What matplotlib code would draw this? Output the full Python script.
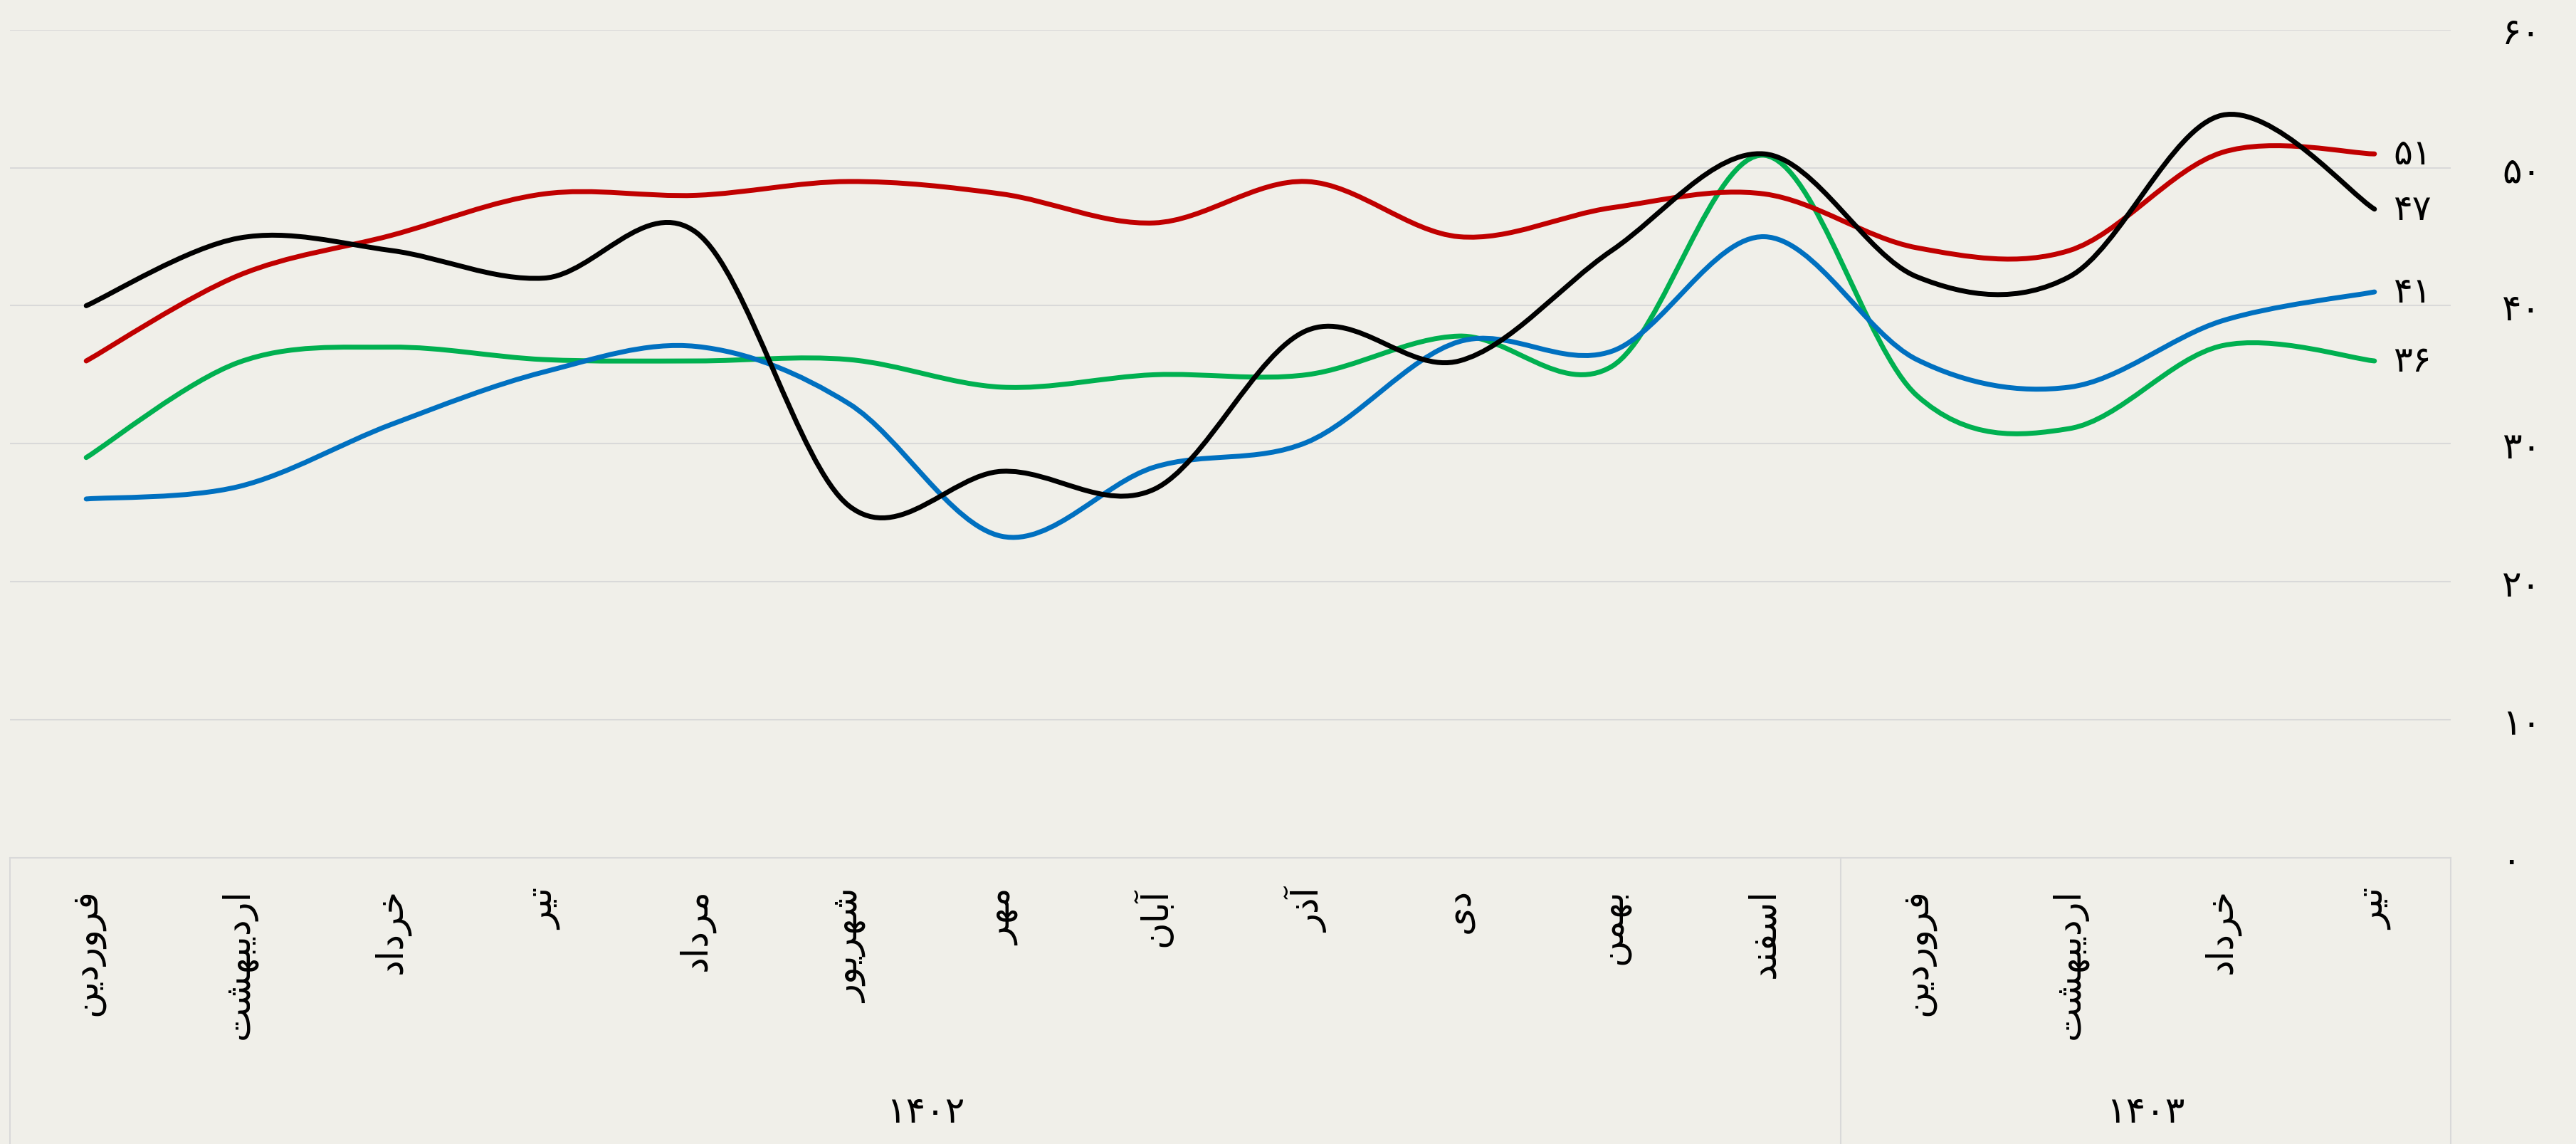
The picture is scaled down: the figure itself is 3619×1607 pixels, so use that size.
import matplotlib
matplotlib.use("Agg")
import matplotlib.pyplot as plt
from matplotlib.path import Path
from matplotlib.patches import PathPatch
import numpy as np

plt.rcParams['font.family'] = ['DejaVu Sans']

# 数据
months = ['فروردین', 'اردیبهشت', 'خرداد', 'تیر', 'مرداد', 'شهریور', 'مهر', 'آبان',
          'آذر', 'دی', 'بهمن', 'اسفند', 'فروردین', 'اردیبهشت', 'خرداد', 'تیر']
years = ['۱۴۰۲', '۱۴۰۳']
year_spans = [(0, 11), (12, 15)]

red = [36.0, 42.2, 45.1, 48.1, 48.0, 49.0, 48.1, 46.0, 49.0, 45.0, 47.1, 48.1, 44.2, 44.0, 51.1, 51.0]
black = [40.0, 44.9, 44.0, 42.0, 45.3, 25.5, 28.0, 26.7, 38.2, 36.0, 44.0, 51.0, 42.1, 42.1, 53.8, 47.0]
blue = [26.0, 26.9, 31.4, 35.2, 37.05, 32.9, 23.3, 28.3, 30.1, 37.4, 36.7, 45.0, 36.1, 34.1, 38.9, 41.0]
green = [29.0, 35.9, 37.0, 36.1, 36.0, 36.1, 34.1, 35.0, 35.0, 37.8, 35.6, 50.9, 33.5, 31.1, 37.1, 36.0]
end_labels = ['۵۱', '۴۷', '۴۱', '۳۶']
end_values = [51, 47, 41, 36]

yticks = [0, 10, 20, 30, 40, 50, 60]

BG = '#F0EFE9'
GRID = '#D9D9D9'

# 波斯字母连写形式 (孤立, 词尾, 词首, 词中)
FORMS = {
    'ا': ('\uFE8D', '\uFE8E'), 'آ': ('\uFE81', '\uFE82'),
    'د': ('\uFEA9', '\uFEAA'), 'ذ': ('\uFEAB', '\uFEAC'),
    'ر': ('\uFEAD', '\uFEAE'), 'و': ('\uFEED', '\uFEEE'),
    'ب': ('\uFE8F', '\uFE90', '\uFE91', '\uFE92'),
    'ت': ('\uFE95', '\uFE96', '\uFE97', '\uFE98'),
    'خ': ('\uFEA5', '\uFEA6', '\uFEA7', '\uFEA8'),
    'س': ('\uFEB1', '\uFEB2', '\uFEB3', '\uFEB4'),
    'ش': ('\uFEB5', '\uFEB6', '\uFEB7', '\uFEB8'),
    'ف': ('\uFED1', '\uFED2', '\uFED3', '\uFED4'),
    'م': ('\uFEE1', '\uFEE2', '\uFEE3', '\uFEE4'),
    'ن': ('\uFEE5', '\uFEE6', '\uFEE7', '\uFEE8'),
    'ه': ('\uFEE9', '\uFEEA', '\uFEEB', '\uFEEC'),
    'ی': ('\uFBFC', '\uFBFD', '\uFBFE', '\uFBFF'),
}


def shape(word):
    out = []
    for i, c in enumerate(word):
        f = FORMS[c]
        prev = word[i - 1] if i > 0 else None
        nxt = word[i + 1] if i + 1 < len(word) else None
        jp = prev is not None and len(FORMS[prev]) == 4
        jn = len(f) == 4 and nxt is not None
        if jp and jn:
            out.append(f[3])
        elif jp:
            out.append(f[1])
        elif jn:
            out.append(f[2])
        else:
            out.append(f[0])
    return ''.join(out)[::-1]


def fa_num(n):
    return str(n).translate(str.maketrans('0123456789', '۰۱۲۳۴۵۶۷۸۹'))


def smooth_path(xs, ys):
    # Catmull-Rom -> 三次贝塞尔
    p = np.column_stack([xs, ys]).astype(float)
    pp = np.vstack([p[0], p, p[-1]])
    verts = [p[0]]
    codes = [Path.MOVETO]
    for i in range(len(p) - 1):
        p0, p1, p2, p3 = pp[i], pp[i + 1], pp[i + 2], pp[i + 3]
        verts += [p1 + (p2 - p0) / 6, p2 - (p3 - p1) / 6, p2]
        codes += [Path.CURVE4] * 3
    return Path(verts, codes)


fig = plt.figure(figsize=(36.19, 16.08), dpi=100, facecolor=BG)
ax = fig.add_axes([14 / 3619, 0.25, (3443 - 14) / 3619, 0.97345 - 0.25])
ax.set_facecolor(BG)

x = np.arange(len(months))
series = [(green, '#00B050'), (blue, '#0070C0'), (red, '#C00000'), (black, '#000000')]
for vals, col in series:
    ax.add_patch(PathPatch(smooth_path(x, vals), fill=False, edgecolor=col,
                           lw=5, capstyle='round', joinstyle='round', zorder=3))

for lab, v in zip(end_labels, end_values):
    ax.annotate(lab, xy=(x[-1], v), xytext=(19, 0), textcoords='offset points',
                ha='left', va='center', fontsize=36, color='black', zorder=4)

ax.set_xlim(-0.5, len(months) - 0.5)
ax.set_ylim(0, 60)
ax.set_yticks(yticks)
ax.set_yticklabels([fa_num(t) for t in yticks], fontsize=37)
ax.yaxis.tick_right()
ax.tick_params(axis='y', length=0, pad=52)
for t in ax.get_yticklabels():
    t.set_horizontalalignment('left')
ax.set_xticks([])
ax.grid(axis='y', color=GRID, lw=1.5)
ax.set_axisbelow(True)
for s in ['top', 'left', 'right']:
    ax.spines[s].set_visible(False)
ax.spines['bottom'].set_color(GRID)
ax.spines['bottom'].set_linewidth(1.5)

# 分类标签
tr = ax.get_xaxis_transform()
bot = -(1608 - 1206) / (1206 - 42.7)
for i, m in enumerate(months):
    ax.text(x[i], -0.036, shape(m), transform=tr, rotation=90, ha='center', va='top',
            fontsize=37, rotation_mode='default')
for (a, b), yl in zip(year_spans, years):
    ax.text((a + b) / 2, -0.307, yl, transform=tr, ha='center', va='center', fontsize=37)
for xv in [-0.5, 11.5, 15.5]:
    ax.plot([xv, xv], [0, bot], transform=tr, color=GRID, lw=1.5, clip_on=False)

fig.savefig('out.png', dpi=100, facecolor=BG)
